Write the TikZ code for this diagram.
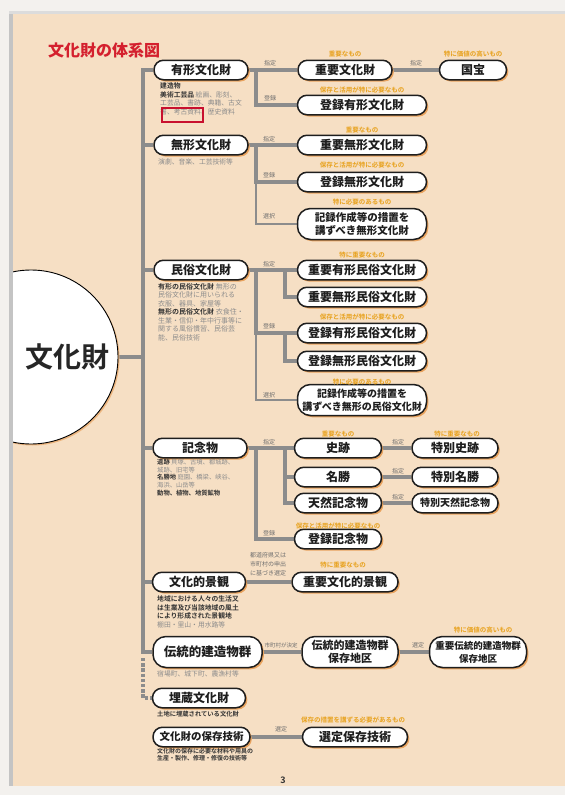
\documentclass[tikz,border=0pt]{standalone}
\usepackage{fontspec}
\setmainfont{Noto Sans CJK JP}[BoldFont={Noto Sans CJK JP Bold}]
\newfontfamily\heavyjp{Noto Sans CJK JP Black}
\usetikzlibrary{shadows,calc}
\definecolor{pagebg}{HTML}{F6DFC4}
\definecolor{outerbg}{HTML}{F3F1EE}
\definecolor{stripgray}{HTML}{C4C4C4}
\definecolor{linegray}{HTML}{8C8C8C}
\definecolor{boxline}{HTML}{1E1E1E}
\definecolor{textdark}{HTML}{1E1E1E}
\definecolor{shorange}{HTML}{E9A35E}
\definecolor{noteorange}{HTML}{E8A21E}
\definecolor{lblgray}{HTML}{6E6E6E}
\definecolor{descgray}{HTML}{8C8C8C}
\definecolor{descdark}{HTML}{333333}
\definecolor{titlered}{HTML}{D4202E}
\definecolor{markred}{HTML}{C8102E}
\pgfdeclarelayer{back}
\pgfdeclarelayer{lines}
\pgfsetlayers{back,lines,main}
\tikzset{
  box/.style={draw=boxline, line width=1.5pt, fill=white, rounded corners=9.5pt,
    minimum height=19.5pt, inner sep=0pt, text=textdark,
    font=\heavyjp\fontsize{12}{12}\selectfont,
    drop shadow={shadow xshift=1.8pt, shadow yshift=-1.8pt, fill=shorange, opacity=1}},
  tallbox/.style={rounded corners=13pt, minimum height=31pt, align=center},
  ln/.style={draw=linegray, line width=3.6pt},
  lnthin/.style={draw=linegray, line width=1.8pt},
  lbl/.style={font=\fontsize{6}{6}\selectfont, text=lblgray, inner sep=0pt},
  note/.style={font=\bfseries\fontsize{6.5}{6.5}\selectfont, text=noteorange, inner sep=0pt},
  desc/.style={font=\fontsize{6.8}{8.4}\selectfont, text=descgray, align=left, anchor=north west, inner sep=0pt},
}
\begin{document}
\begin{tikzpicture}[x=1pt,y=-1pt]
\useasboundingbox (0,0) rectangle (565,795);
\begin{pgfonlayer}{back}
\fill[outerbg] (0,0) rectangle (565,795);
\fill[pagebg] (12,14) rectangle (565,786);
\fill[stripgray] (9,12) rectangle (13,786);
\fill[stripgray!60] (9,11) rectangle (565,14);
\end{pgfonlayer}

% title
\node[font=\heavyjp\fontsize{16}{16}\selectfont, text=titlered, inner sep=0pt] (title) at (104,50) {文化財の体系図};

% big circle
\begin{scope}
\clip (13,0) rectangle (565,795);
\node[circle, draw=black, line width=0.9pt, fill=white, minimum size=174pt, inner sep=0pt,
  drop shadow={shadow xshift=1.5pt, shadow yshift=-1.5pt, fill=shorange!80, opacity=1}] (bkz) at (31,357) {};
\end{scope}
\node[font=\bfseries\fontsize{28}{28}\selectfont, text=black!85, inner sep=0pt] (bkztext) at (67,357) {文化財};

% level 1
\node[box, minimum width=94pt] (yk) at (201,70) {有形文化財};
\node[box, minimum width=94pt] (mk) at (201,145) {無形文化財};
\node[box, minimum width=94pt] (mz) at (201,270) {民俗文化財};
\node[box, minimum width=94pt] (kn) at (200,448) {記念物};
\node[box, minimum width=93pt] (bk) at (199,582) {文化的景観};
\node[box, tallbox, minimum width=109pt, font=\heavyjp\fontsize{12.5}{12.5}\selectfont] (dk) at (207.5,652) {伝統的建造物群};
\node[box, minimum width=93pt] (mb) at (199,698) {埋蔵文化財};
\node[box, minimum width=97pt, font=\heavyjp\fontsize{10.5}{10.5}\selectfont] (hg) at (201.5,737) {文化財の保存技術};

% 有形
\node[box, minimum width=94pt] (jb) at (345,70) {重要文化財};
\node[box, minimum width=67pt] (kh) at (473,70) {国宝};
\node[box, minimum width=129pt] (tr) at (362,105) {登録有形文化財};

% 無形
\node[box, minimum width=129pt] (jm) at (362,145) {重要無形文化財};
\node[box, minimum width=129pt] (tm) at (362,182) {登録無形文化財};
\node[box, tallbox, minimum width=129pt, font=\heavyjp\fontsize{10.5}{12.5}\selectfont] (km) at (362,224) {記録作成等の措置を\\講ずべき無形文化財};

% 民俗
\node[box, minimum width=129pt] (jy) at (362,270) {重要有形民俗文化財};
\node[box, minimum width=129pt] (jmm) at (362,297) {重要無形民俗文化財};
\node[box, minimum width=129pt] (ty) at (362,333) {登録有形民俗文化財};
\node[box, minimum width=129pt] (tmm) at (362,361) {登録無形民俗文化財};
\node[box, tallbox, minimum width=129pt, font=\heavyjp\fontsize{10}{12.5}\selectfont] (kmz) at (362,400) {記録作成等の措置を\\講ずべき無形の民俗文化財};

% 記念物
\node[box, minimum width=87pt] (sh) at (338,448) {史跡};
\node[box, minimum width=87pt] (mj) at (338,477) {名勝};
\node[box, minimum width=87pt] (tn) at (338,503) {天然記念物};
\node[box, minimum width=86pt] (ts) at (455,448) {特別史跡};
\node[box, minimum width=86pt] (tmj) at (455,477) {特別名勝};
\node[box, minimum width=86pt, font=\heavyjp\fontsize{10}{10}\selectfont] (ttn) at (455,503) {特別天然記念物};
\node[box, minimum width=87pt] (tkn) at (338,539) {登録記念物};

% 景観
\node[box, minimum width=106pt] (jbk) at (345,582) {重要文化的景観};

% 伝建
\node[box, tallbox, minimum width=96pt, font=\heavyjp\fontsize{11}{13}\selectfont] (dh) at (350,652) {伝統的建造物群\\保存地区};
\node[box, tallbox, minimum width=97pt, font=\heavyjp\fontsize{9.5}{13}\selectfont] (jdh) at (478,652) {重要伝統的建造物群\\保存地区};

% 保存技術
\node[box, minimum width=105pt] (sg) at (355,737) {選定保存技術};

% connectors
\coordinate (tx) at (143,0);
\coordinate (sx) at (256,0);
\coordinate (sy) at (285,0);
\coordinate (dstart) at (143,658);
\begin{pgfonlayer}{lines}
\draw[ln] (yk.west) -- (yk.west -| tx) -- (dk.west -| tx) -- (dk.west);
\draw[ln] (mk.west) -- (mk.west -| tx);
\draw[ln] (mz.west) -- (mz.west -| tx);
\draw[ln] (kn.west) -- (kn.west -| tx);
\draw[ln] (bk.west) -- (bk.west -| tx);
\draw[ln] (bkz.east) -- (bkz.east -| tx);
\draw[ln, dash pattern=on 3.4pt off 1.8pt] (dstart) |- (mb.west);
% 有形
\draw[ln] (yk.east) -- (yk.east -| sx) |- (tr.west);
\draw[ln] (yk.east -| sx) -- (jb.west);
\draw[ln] (jb.east) -- (kh.west);
% 無形
\draw[ln] (mk.east) -- (mk.east -| sx) |- (tm.west);
\draw[ln] (mk.east -| sx) -- (jm.west);
\draw[lnthin] (tm.west -| sx) |- (km.west);
% 民俗
\draw[ln] (mz.east) -- (mz.east -| sx) |- (ty.west);
\draw[ln] (mz.east -| sx) -- (jy.west);
\draw[ln] (jy.west -| sy) |- (jmm.west);
\draw[ln] (ty.west -| sy) |- (tmm.west);
\draw[lnthin] (ty.west -| sx) |- (kmz.west);
% 記念物
\draw[ln] (kn.east) -- (kn.east -| sx) |- (tkn.west);
\draw[ln] (kn.east -| sx) -- (sh.west);
\draw[ln] (sh.west -| sy) |- (tn.west);
\draw[ln] (mj.west -| sy) -- (mj.west);
\draw[ln] (sh.east) -- (ts.west);
\draw[ln] (mj.east) -- (tmj.west);
\draw[ln] (tn.east) -- (ttn.west);
% others
\draw[ln] (bk.east) -- (jbk.west);
\draw[ln] (dk.east) -- (dh.west);
\draw[ln] (dh.east) -- (jdh.west);
\draw[ln] (hg.east) -- (sg.west);
\end{pgfonlayer}

% line labels
\node[lbl] (l1) at (270,63) {指定};
\node[lbl] (l2) at (270,98) {登録};
\node[lbl] (l3) at (416,63) {指定};
\node[lbl] (l4) at (269,139) {指定};
\node[lbl] (l5) at (269,175) {登録};
\node[lbl] (l6) at (269,216) {選択};
\node[lbl] (l7) at (269,264) {指定};
\node[lbl] (l8) at (269,326) {登録};
\node[lbl] (l9) at (269,395) {選択};
\node[lbl] (l10) at (269,442) {指定};
\node[lbl] (l11) at (269,533) {登録};
\node[lbl] (l12) at (398,442) {指定};
\node[lbl] (l13) at (398,471) {指定};
\node[lbl] (l14) at (398,497) {指定};
\node[lbl, align=center, font=\fontsize{6}{9}\selectfont] (l15) at (268,564) {都道府県又は\\市町村の申出\\に基づき選定};
\node[lbl, font=\fontsize{5.5}{5.5}\selectfont] (l16) at (281,645) {市町村が決定};
\node[lbl] (l17) at (418,645) {選定};
\node[lbl] (l18) at (281,729) {選定};

% orange notes
\node[note] (n1) at (345,54) {重要なもの};
\node[note] (n2) at (473,54) {特に価値の高いもの};
\node[note] (n3) at (362,90) {保存と活用が特に必要なもの};
\node[note] (n4) at (362,130) {重要なもの};
\node[note] (n5) at (362,165) {保存と活用が特に必要なもの};
\node[note] (n6) at (362,202) {特に必要のあるもの};
\node[note] (n7) at (362,255) {特に重要なもの};
\node[note] (n8) at (362,317) {保存と活用が特に必要なもの};
\node[note] (n9) at (362,382) {特に必要のあるもの};
\node[note] (n10) at (338,434) {重要なもの};
\node[note] (n11) at (457,434) {特に重要なもの};
\node[note] (n12) at (338,526) {保存と活用が特に必要なもの};
\node[note] (n13) at (343,565) {特に重要なもの};
\node[note] (n14) at (483,630) {特に価値の高いもの};
\node[note] (n15) at (353,720) {保存の措置を講ずる必要があるもの};

% descriptions
\node[desc] (d1) at (160,83) {{\bfseries\color{descdark}建造物}\\{\bfseries\color{descdark}美術工芸品}\ 絵画、彫刻、\\工芸品、書跡、典籍、古文\\書、考古資料、歴史資料};
\draw[markred, line width=1.2pt] (162,108) rectangle (203,122);
\node[desc] (d2) at (158,159) {演劇、音楽、工芸技術等};
\node[desc, font=\fontsize{7}{8.5}\selectfont] (d3) at (158,283) {{\bfseries\color{descdark}有形の民俗文化財}\ 無形の\\民俗文化財に用いられる\\衣服、器具、家屋等\\{\bfseries\color{descdark}無形の民俗文化財}\ 衣食住・\\生業・信仰・年中行事等に\\関する風俗慣習、民俗芸\\能、民俗技術};
\node[desc, font=\fontsize{6.3}{7.7}\selectfont] (d4) at (157,459) {{\bfseries\color{descdark}遺跡}\ 貝塚、古墳、都城跡、\\城跡、旧宅等\\{\bfseries\color{descdark}名勝地}\ 庭園、橋梁、峡谷、\\海浜、山岳等\\{\bfseries\color{descdark}動物、植物、地質鉱物}};
\node[desc] (d5) at (157,596) {{\bfseries\color{descdark}地域における人々の生活又}\\{\bfseries\color{descdark}は生業及び当該地域の風土}\\{\bfseries\color{descdark}により形成された景観地}\\棚田・里山・用水路等};
\node[desc] (d6) at (157,671) {宿場町、城下町、農漁村等};
\node[desc, text=descdark, font=\bfseries\fontsize{6.3}{7.5}\selectfont] (d7) at (157,711) {土地に埋蔵されている文化財};
\node[desc, text=descdark, font=\bfseries\fontsize{6}{7.5}\selectfont] (d8) at (157,748) {文化財の保存に必要な材料や用具の\\生産・製作、修理・修復の技術等};

% page number
\node[font=\bfseries\fontsize{9}{9}\selectfont, text=descdark, inner sep=0pt] (pg) at (283,780) {3};
\end{tikzpicture}
\end{document}
